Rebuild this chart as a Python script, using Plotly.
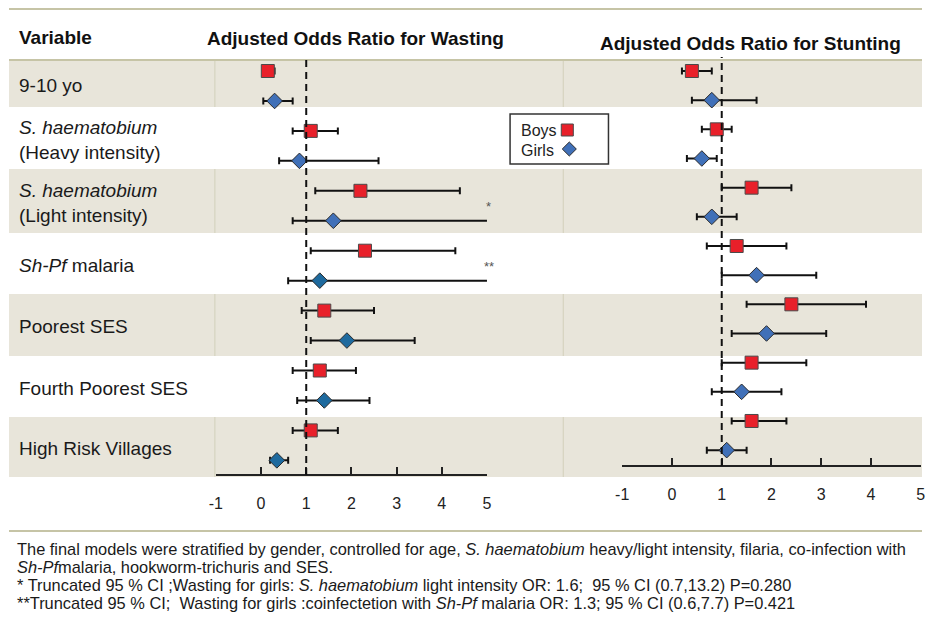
import plotly.graph_objects as go

# ---------------- data ----------------
variables = [
    "9-10 yo",
    "<i>S. haematobium</i><br>(Heavy intensity)",
    "<i>S. haematobium</i><br>(Light intensity)",
    "<i>Sh-Pf</i> malaria",
    "Poorest SES",
    "Fourth Poorest SES",
    "High Risk Villages",
]
row_index = [0, 1, 2, 3, 4, 5, 6]

wasting_boys_or = [0.15, 1.1, 2.2, 2.3, 1.4, 1.3, 1.1]
wasting_boys_lo = [0.1, 0.7, 1.2, 1.1, 0.9, 0.7, 0.7]
wasting_boys_hi = [0.3, 1.7, 4.4, 4.3, 2.5, 2.1, 1.7]
wasting_girls_or = [0.3, 0.85, 1.6, 1.3, 1.9, 1.4, 0.35]
wasting_girls_lo = [0.05, 0.4, 0.7, 0.6, 1.1, 0.8, 0.2]
wasting_girls_hi = [0.7, 2.6, 13.2, 7.7, 3.4, 2.4, 0.6]

stunting_boys_or = [0.4, 0.9, 1.6, 1.3, 2.4, 1.6, 1.6]
stunting_boys_lo = [0.2, 0.6, 1.0, 0.7, 1.5, 1.0, 1.2]
stunting_boys_hi = [0.8, 1.2, 2.4, 2.3, 3.9, 2.7, 2.3]
stunting_girls_or = [0.8, 0.6, 0.8, 1.7, 1.9, 1.4, 1.1]
stunting_girls_lo = [0.4, 0.3, 0.5, 1.0, 1.2, 0.8, 0.7]
stunting_girls_hi = [1.7, 0.9, 1.3, 2.9, 3.1, 2.2, 1.5]

tick_values = [-1, 0, 1, 2, 3, 4, 5]
tick_labels = ["-1", "0", "1", "2", "3", "4", "5"]
reference_or = 1

truncation_marks = ["", "", "*", "**", "", "", ""]

header_variable = "Variable"
header_wasting = "Adjusted Odds Ratio for Wasting"
header_stunting = "Adjusted Odds Ratio for Stunting"
legend_labels = ["Boys", "Girls"]

footnotes = [
    "The final models were stratified by gender, controlled for age, <i>S. haematobium</i> heavy/light intensity, filaria, co-infection with",
    "<i>Sh-Pf</i>malaria, hookworm-trichuris and SES.",
    "* Truncated 95 % CI ;Wasting for girls: <i>S. haematobium</i> light intensity OR: 1.6;&nbsp; 95 % CI (0.7,13.2) P=0.280",
    "**Truncated 95 % CI;&nbsp; Wasting for girls :coinfectetion with <i>Sh-Pf</i> malaria OR: 1.3; 95 % CI (0.6,7.7) P=0.421",
]

# ---------------- layout helpers ----------------
W, H = 927, 620
OX, SX = 8.0, 0.983   # horizontal calibration of the captured page
def px(x):
    return min(1.0, max(0.0, (x - OX) / SX / W))
def py(y):
    return 1 - y / H

BOY_COLOR = "#E8202A"
GIRL_BLUE = "#4070B8"
GIRL_TEAL = "#1E6A9E"
BEIGE = "#E8E5DA"
RULE = "#C6C4A6"
SEP = "#D6D3BF"
FONT = "Liberation Sans, Arial, sans-serif"

left_girl_colors = [GIRL_BLUE, GIRL_BLUE, GIRL_BLUE, GIRL_TEAL, GIRL_TEAL, GIRL_TEAL, GIRL_TEAL]
right_girl_colors = [GIRL_BLUE] * 7

girls_offset = 0.5
boys_y = [r for r in row_index]
girls_y = [r + girls_offset for r in row_index]

fig = go.Figure()

def add_panel(xa, ya, b_or, b_lo, b_hi, g_or, g_lo, g_hi, g_colors):
    fig.add_trace(go.Scatter(
        x=b_or, y=boys_y, mode="markers", xaxis=xa, yaxis=ya, showlegend=False,
        marker=dict(symbol="square", size=13, color=BOY_COLOR, line=dict(color="#4a4a4a", width=1)),
        error_x=dict(type="data", symmetric=False,
                     array=[h - o for h, o in zip(b_hi, b_or)],
                     arrayminus=[o - l for o, l in zip(b_or, b_lo)],
                     color="#111111", thickness=2, width=3.5),
        cliponaxis=False,
    ))
    fig.add_trace(go.Scatter(
        x=g_or, y=girls_y, mode="markers", xaxis=xa, yaxis=ya, showlegend=False,
        marker=dict(symbol="diamond", size=12, color=g_colors, line=dict(color="#2a2a2a", width=1)),
        error_x=dict(type="data", symmetric=False,
                     array=[h - o for h, o in zip(g_hi, g_or)],
                     arrayminus=[o - l for o, l in zip(g_or, g_lo)],
                     color="#111111", thickness=2, width=3.5),
        cliponaxis=False,
    ))

add_panel("x", "y", wasting_boys_or, wasting_boys_lo, wasting_boys_hi,
          wasting_girls_or, wasting_girls_lo, wasting_girls_hi, left_girl_colors)
add_panel("x2", "y2", stunting_boys_or, stunting_boys_lo, stunting_boys_hi,
          stunting_girls_or, stunting_girls_lo, stunting_girls_hi, right_girl_colors)

shapes = []
# beige bands (rows 1,3,5,7)
band_edges = [(60, 107), (169, 233), (294, 356), (417, 477)]
for (t, b) in band_edges:
    shapes.append(dict(type="rect", xref="paper", yref="paper", x0=px(10), x1=px(927),
                       y0=py(b), y1=py(t), fillcolor=BEIGE, line=dict(width=0), layer="below"))
    for sx in (215, 562):
        shapes.append(dict(type="line", xref="paper", yref="paper", x0=px(sx), x1=px(sx),
                           y0=py(b), y1=py(t), line=dict(color=SEP, width=1.2), layer="below"))
# horizontal rules
for ry in (9, 60, 531):
    shapes.append(dict(type="line", xref="paper", yref="paper", x0=px(10), x1=px(927),
                       y0=py(ry), y1=py(ry), line=dict(color=RULE, width=2), layer="below"))
# reference dashed lines at OR = 1
shapes.append(dict(type="line", xref="x", yref="paper", x0=reference_or, x1=reference_or,
                   y0=py(475), y1=py(57), line=dict(color="#111111", width=2, dash="7px,5px")))
shapes.append(dict(type="line", xref="x2", yref="paper", x0=reference_or, x1=reference_or,
                   y0=py(466), y1=py(57), line=dict(color="#111111", width=2, dash="7px,5px")))
# custom legend box & symbols
shapes.append(dict(type="rect", xref="paper", yref="paper", x0=px(509), x1=px(607),
                   y0=py(164), y1=py(114), line=dict(color="#333333", width=1.5), fillcolor="white"))
shapes.append(dict(type="rect", xref="paper", yref="paper", x0=px(560), x1=px(572),
                   y0=py(136), y1=py(124), fillcolor=BOY_COLOR, line=dict(color="#4a4a4a", width=1)))
dcx, dcy, r = 568, 149, 7
shapes.append(dict(type="path", xref="paper", yref="paper",
                   path=f"M {px(dcx)} {py(dcy - r)} L {px(dcx + r)} {py(dcy)} L {px(dcx)} {py(dcy + r)} L {px(dcx - r)} {py(dcy)} Z",
                   fillcolor=GIRL_BLUE, line=dict(color="#2a2a2a", width=1)))

annotations = []
annotations.append(dict(text=f"<b>{header_variable}</b>", xref="paper", yref="paper", x=px(18), y=py(37),
                        xanchor="left", yanchor="middle", showarrow=False, font=dict(size=19, color="#111")))
annotations.append(dict(text=f"<b>{header_wasting}</b>", xref="paper", yref="paper", x=px(355), y=py(39),
                        xanchor="center", yanchor="middle", showarrow=False, font=dict(size=19, color="#111")))
annotations.append(dict(text=f"<b>{header_stunting}</b>", xref="paper", yref="paper", x=px(748), y=py(44),
                        xanchor="center", yanchor="middle", showarrow=False, font=dict(size=19, color="#111")))
# row labels centred on bands
row_edges = [60, 107, 169, 233, 294, 356, 417, 477]
for i, lab in enumerate(variables):
    cy = (row_edges[i] + row_edges[i + 1]) / 2 + 1.5
    annotations.append(dict(text=lab, xref="paper", yref="paper", x=px(18), y=py(cy),
                            xanchor="left", yanchor="middle", align="left", showarrow=False,
                            font=dict(size=19, color="#1a1a1a")))
# truncation marks at the axis limit
for i, m in enumerate(truncation_marks):
    if m:
        annotations.append(dict(text=m, xref="x", yref="y", x=tick_values[-1], y=girls_y[i],
                                xanchor="center", yanchor="middle", yshift=14, xshift=2, showarrow=False,
                                font=dict(size=13, color="#555")))
# legend labels
annotations.append(dict(text=legend_labels[0], xref="paper", yref="paper", x=px(518), y=py(130),
                        xanchor="left", yanchor="middle", showarrow=False, font=dict(size=16, color="#222")))
annotations.append(dict(text=legend_labels[1], xref="paper", yref="paper", x=px(518), y=py(150),
                        xanchor="left", yanchor="middle", showarrow=False, font=dict(size=16, color="#222")))
# footnotes
for i, t in enumerate(footnotes):
    annotations.append(dict(text=t, xref="paper", yref="paper", x=px(16), y=py(549 + 18 * i),
                            xanchor="left", yanchor="middle", align="left", showarrow=False,
                            font=dict(size=16.4, color="#1a1a1a")))

axis_common = dict(range=[-1, 5], tickvals=tick_values, ticktext=tick_labels, showgrid=False, zeroline=False,
                   showline=True, linecolor="#222", linewidth=1.5,
                   ticks="inside", ticklen=7, tickwidth=1.5, tickcolor="#222",
                   tickfont=dict(size=16, color="#222"), anchor="free", fixedrange=True)

fig.update_layout(
    width=W, height=H,
    margin=dict(l=0, r=0, t=0, b=0),
    paper_bgcolor="white", plot_bgcolor="rgba(0,0,0,0)",
    font=dict(family=FONT),
    xaxis=dict(domain=[px(216), px(486)], position=py(475), ticklabelstandoff=14, **axis_common),
    xaxis2=dict(domain=[px(620.7), px(918)], position=py(466), ticklabelstandoff=14, **axis_common),
    yaxis=dict(domain=[0, 1], range=[-1.1853 + 620 / 59.9, -1.1853], visible=False, anchor="x", fixedrange=True),
    yaxis2=dict(domain=[0, 1], range=[-1.2172 + 620 / 58.33, -1.2172], visible=False, anchor="x2", fixedrange=True),
    shapes=shapes,
    annotations=annotations,
    showlegend=False,
)

fig.write_html("out.html", config={"displayModeBar": False},
               post_script="document.body.style.margin='0';document.body.style.overflow='hidden';")
